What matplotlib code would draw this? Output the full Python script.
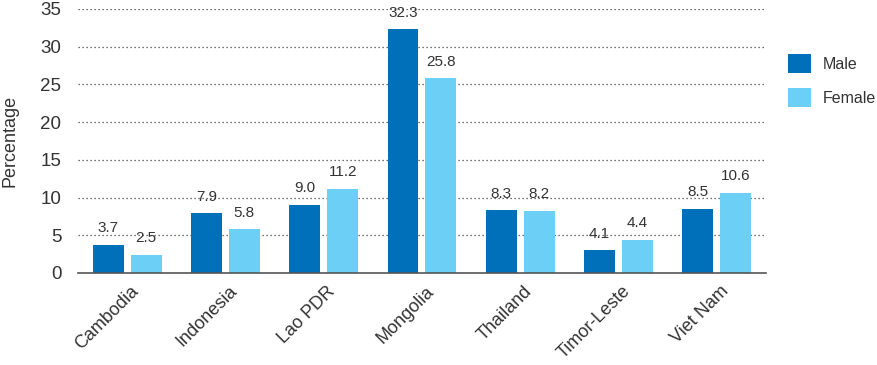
import matplotlib
matplotlib.use('Agg')
from matplotlib import pyplot as plt
from matplotlib.transforms import ScaledTranslation
import numpy as np

# Chart data
countries = ['Cambodia', 'Indonesia', 'Lao PDR', 'Mongolia', 'Thailand', 'Timor-Leste', 'Viet Nam']
maleValues = [3.7, 7.9, 9.0, 32.3, 8.3, 3.0, 8.5]
femaleValues = [2.4, 5.8, 11.2, 25.8, 8.2, 4.4, 10.6]
# printed labels (Timor-Leste male bar is drawn lower than its label says)
maleLabels = ['3.7', '7.9', '9.0', '32.3', '8.3', '4.1', '8.5']
femaleLabels = ['2.5', '5.8', '11.2', '25.8', '8.2', '4.4', '10.6']
yTicks = [0, 5, 10, 15, 20, 25, 30, 35]

maleColor = '#0070BA'
femaleColor = '#6BCFF6'
textColor = '#333333'

plt.rcParams['font.family'] = ['Liberation Sans', 'DejaVu Sans']

fig = plt.figure(figsize=(8.78, 3.65), dpi=100)
ax = fig.add_axes([0.0888, 0.2521, 0.7836, 0.7233])

x = np.arange(len(countries))
barWidth = 0.315
offset = 0.193

maleBars = ax.bar(x - offset, maleValues, barWidth, color=maleColor, label='Male', zorder=3)
femaleBars = ax.bar(x + offset, femaleValues, barWidth, color=femaleColor, label='Female', zorder=3)

# Value labels above every bar
for bars, labels in [(maleBars, maleLabels), (femaleBars, femaleLabels)]:
    for bar, lab in zip(bars, labels):
        ax.annotate(lab, (bar.get_x() + bar.get_width() / 2, bar.get_height()),
                    xytext=(0, 7), textcoords='offset points',
                    ha='center', va='bottom', fontsize=11, color=textColor)

ax.set_xlim(-0.5, 6.5)
ax.set_ylim(0, 35)
ax.set_yticks(yTicks)
ax.set_yticklabels([str(t) for t in yTicks], fontsize=13.5, color=textColor)

# dotted gridlines, skip the one at zero (the baseline is drawn by the spine)
for t in yTicks[1:]:
    ax.axhline(t, color='#444444', linestyle=(0, (1, 2.2)), linewidth=0.9, zorder=1)

for side in ['top', 'right', 'left']:
    ax.spines[side].set_visible(False)
ax.spines['bottom'].set_color('#555555')
ax.spines['bottom'].set_linewidth(1.2)
ax.spines['bottom'].set_zorder(4)

ax.tick_params(axis='y', length=0, pad=12)
ax.tick_params(axis='x', length=0, pad=7)

ax.set_xticks(x)
ax.set_xticklabels(countries, rotation=45, ha='right', va='top', rotation_mode='anchor',
                   fontsize=13, color=textColor)
shift = ScaledTranslation(3 / 100, 0, fig.dpi_scale_trans)
for lab in ax.get_xticklabels():
    lab.set_transform(lab.get_transform() + shift)

ax.set_ylabel('Percentage', fontsize=13, color=textColor)
ax.yaxis.set_label_coords(-0.086, 0.5)

fig.legend(handles=[maleBars, femaleBars], loc='upper left', bbox_to_anchor=(0.8975, 0.852),
           frameon=False, fontsize=11.5, handlelength=1.45, handleheight=1.45,
           labelspacing=0.95, handletextpad=0.75, borderpad=0, borderaxespad=0,
           labelcolor=textColor)

plt.savefig('out.png', dpi=100)
